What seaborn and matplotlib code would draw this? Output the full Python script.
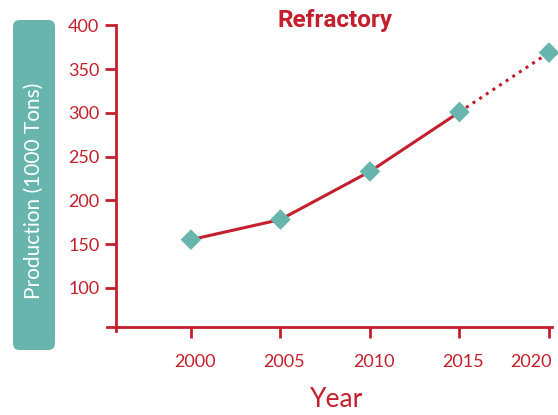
import matplotlib
matplotlib.use("Agg")
import matplotlib.pyplot as plt
from matplotlib.patches import FancyBboxPatch
from matplotlib.transforms import ScaledTranslation
import seaborn as sns
import pandas as pd

years = [2000, 2005, 2010, 2015, 2020]
production = [155, 178, 233, 301, 369]
x_ticks = [2000, 2005, 2010, 2015, 2020]
y_ticks = [100, 150, 200, 250, 300, 350, 400]

RED = "#c41f2c"
TEAL = "#67b5ad"

sns.set_style("white")
plt.rcParams['font.family'] = ['Lato', 'DejaVu Sans']

df = pd.DataFrame({"year": years, "prod": production})
solid = df.iloc[:4]
dotted = df.iloc[3:]

fig = plt.figure(figsize=(5.58, 4.15), dpi=100)
ax = fig.add_axes([107/558, 1-331/415, 445/558, (331-25.5)/415])

sns.lineplot(data=solid, x="year", y="prod", ax=ax, color=RED, lw=2.2)
sns.lineplot(data=dotted, x="year", y="prod", ax=ax, color=RED, lw=2.2,
             linestyle=(0, (1, 1.6)))
sns.scatterplot(data=df, x="year", y="prod", ax=ax, color=TEAL, marker="D",
                s=110, edgecolor="none", zorder=5, clip_on=False)

ax.set_xlim(1995.31, 2020.17)
ax.set_ylim(50.5, 400)
ax.spines['top'].set_visible(False)
ax.spines['right'].set_visible(False)
ax.spines['left'].set_position(('data', 1995.81))
ax.spines['bottom'].set_position(('data', 55.4))
for s in ['left', 'bottom']:
    ax.spines[s].set_color(RED)
    ax.spines[s].set_linewidth(2)
ax.set_xticks(x_ticks)
ax.set_yticks(y_ticks)
ax.tick_params(axis='both', colors=RED, length=8, width=2, labelsize=13,
               direction='out', pad=4, bottom=True, left=True)
ax.tick_params(axis='x', pad=12)
ax.set_xlabel("")
ax.set_ylabel("")

# shift x tick labels slightly like reference
for lab, val in zip(ax.get_xticklabels(), x_ticks):
    dx = -18 if val == 2020 else 4
    lab.set_transform(lab.get_transform() + ScaledTranslation(dx/100, 0, fig.dpi_scale_trans))

fig.text(335/558, 1-20/415, "Refractory", color=RED, fontsize=17.5,
         fontweight='bold', ha='center', va='center',
         family=['Roboto', 'DejaVu Sans'])
fig.text(337/558, 1-399/415, "Year", color=RED, fontsize=19,
         ha='center', va='center')

box = FancyBboxPatch((13/558, 1-350/415), 42/558, 330/415,
                     boxstyle="round,pad=0,rounding_size=0.012",
                     transform=fig.transFigure, facecolor=TEAL,
                     edgecolor='none', mutation_aspect=558/415)
fig.patches.append(box)
fig.text(34/558, 1-191/415, "Production (1000 Tons)", color='white',
         fontsize=15, rotation=90, ha='center', va='center')

fig.savefig("out.png", dpi=100)
